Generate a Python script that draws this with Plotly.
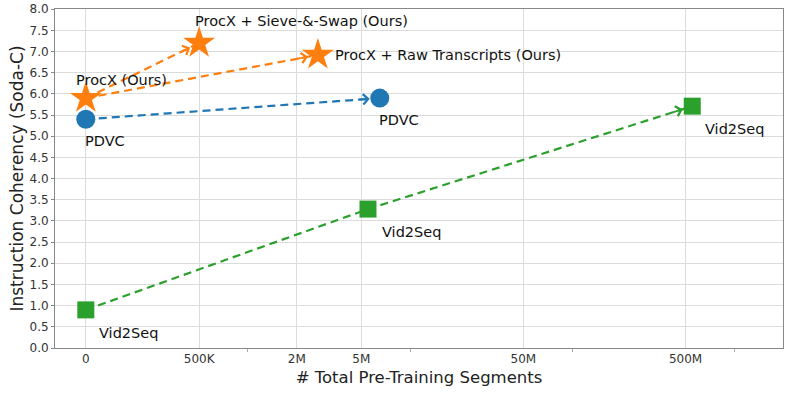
import math
import plotly.graph_objects as go

# %% DATA
# segment counts (0 = no pre-training, shown at the "0" tick)
procx_x = [0, 500e3, 2.7e6]
procx_y = [5.9, 7.2, 6.92]
procx_labels = ['ProcX (Ours)', 'ProcX + Sieve-&-Swap (Ours)', 'ProcX + Raw Transcripts (Ours)']

pdvc_x = [0, 6.5e6]
pdvc_y = [5.4, 5.9]
pdvc_labels = ['PDVC', 'PDVC']

vid2seq_x = [0, 5.5e6, 550e6]
vid2seq_y = [0.9, 3.28, 5.71]
vid2seq_labels = ['Vid2Seq', 'Vid2Seq', 'Vid2Seq']

tick_vals = [0, 500e3, 2e6, 5e6, 50e6, 500e6]
tick_text = ['0', '500K', '2M', '5M', '50M', '500M']
minor_vals = [1e6, 1e7, 1e8, 1e9]
y_ticks = [i / 2 for i in range(17)]

ZERO_POS = 1e5  # where "0" sits on the log axis


def pos(v):
    return ZERO_POS if v == 0 else v


ORANGE = '#ff7f0e'
BLUE = '#1f77b4'
GREEN = '#2ca02c'

X_RANGE = [4.81, 9.30]
Y_RANGE = [0, 8.004]
W, H = 789, 394
M = dict(l=55, r=6, t=9, b=46)
PX_DEC = (W - M['l'] - M['r']) / (X_RANGE[1] - X_RANGE[0])
PX_UNIT = (H - M['t'] - M['b']) / (Y_RANGE[1] - Y_RANGE[0])

fig = go.Figure()
annotations = []


def add_arrow(x0, y0, x1, y1, color, head=True):
    xs, xe = pos(x0), pos(x1)
    fig.add_trace(go.Scatter(
        x=[xs, xe], y=[y0, y1], mode='lines',
        line=dict(color=color, width=2.2, dash='8px,5px'),
        hoverinfo='skip', showlegend=False,
    ))
    if head:
        dx = (math.log10(xe) - math.log10(xs)) * PX_DEC
        dy = (y1 - y0) * PX_UNIT
        ln = math.hypot(dx, dy)
        L = 22
        annotations.append(dict(
            x=math.log10(xe), y=y1, xref='x', yref='y',
            ax=-dx / ln * L, ay=dy / ln * L, axref='pixel', ayref='pixel',
            showarrow=True, arrowhead=4, arrowsize=1.1, arrowwidth=1.8,
            arrowcolor=color, standoff=10, text='',
        ))


# dashed arrows
add_arrow(procx_x[0], procx_y[0], procx_x[1], procx_y[1], ORANGE)
add_arrow(procx_x[0], procx_y[0], procx_x[2], procx_y[2], ORANGE)
add_arrow(pdvc_x[0], pdvc_y[0], pdvc_x[1], pdvc_y[1], BLUE)
add_arrow(vid2seq_x[0], vid2seq_y[0], vid2seq_x[1], vid2seq_y[1], GREEN, head=False)
add_arrow(vid2seq_x[1], vid2seq_y[1], vid2seq_x[2], vid2seq_y[2], GREEN)

# markers
fig.add_trace(go.Scatter(
    x=[pos(v) for v in pdvc_x], y=pdvc_y, mode='markers',
    marker=dict(symbol='circle', size=19, color=BLUE), showlegend=False,
))
fig.add_trace(go.Scatter(
    x=[pos(v) for v in vid2seq_x], y=vid2seq_y, mode='markers',
    marker=dict(symbol='square', size=17, color=GREEN), showlegend=False,
))
fig.add_trace(go.Scatter(
    x=[pos(v) for v in procx_x], y=procx_y, mode='markers',
    marker=dict(symbol='star', size=24, color=ORANGE), showlegend=False,
))

# point labels (pixel offsets from marker)
label_offsets = {
    'procx': [(-12, 18), (-6, 22), (15, 0)],
    'pdvc': [(-3, -22), (-3, -22)],
    'vid2seq': [(11, -23), (12, -23), (11, -23)],
}
for key, xs, ys, labels in [
    ('procx', procx_x, procx_y, procx_labels),
    ('pdvc', pdvc_x, pdvc_y, pdvc_labels),
    ('vid2seq', vid2seq_x, vid2seq_y, vid2seq_labels),
]:
    for (xo, yo), xv, yv, t in zip(label_offsets[key], xs, ys, labels):
        annotations.append(dict(
            x=math.log10(pos(xv)), y=yv, xref='x', yref='y', text=t,
            showarrow=False, xanchor='left', yanchor='middle',
            xshift=xo, yshift=yo, font=dict(size=14.5, color='#111111'),
        ))

fig.update_xaxes(
    type='log', range=X_RANGE, automargin=False,
    tickvals=[pos(v) for v in tick_vals], ticktext=tick_text,
    showgrid=True, gridcolor='#dcdcdc', gridwidth=1,
    showline=True, linecolor='#888888', linewidth=1, mirror=True,
    ticks='', tickfont=dict(size=12, color='#333333'),
    minor=dict(tickvals=minor_vals, ticks='outside', ticklen=3,
               tickcolor='#aaaaaa', showgrid=False),
    title=dict(text='# Total Pre-Training Segments', font=dict(size=16.5, color='#222222'), standoff=6),
    zeroline=False,
)
fig.update_yaxes(
    range=Y_RANGE, tickvals=y_ticks, tickformat='.1f', automargin=False,
    ticklabeloverflow='allow',
    showgrid=True, gridcolor='#dcdcdc', gridwidth=1,
    showline=True, linecolor='#888888', linewidth=1, mirror=True,
    ticks='outside', ticklen=3, tickcolor='#888888',
    tickfont=dict(size=12, color='#333333'),
    title=dict(text='Instruction Coherency (Soda-C)', font=dict(size=17, color='#222222'), standoff=1),
    zeroline=False,
)
fig.update_layout(
    width=W, height=H, margin=M,
    plot_bgcolor='white', paper_bgcolor='white',
    font=dict(family='DejaVu Sans'),
    annotations=annotations,
    showlegend=False,
)

# drop the page's default 8px body margin so the figure fills the window
fig.write_html('out.html', config={'displayModeBar': False},
               post_script="document.body.style.margin='0';")
